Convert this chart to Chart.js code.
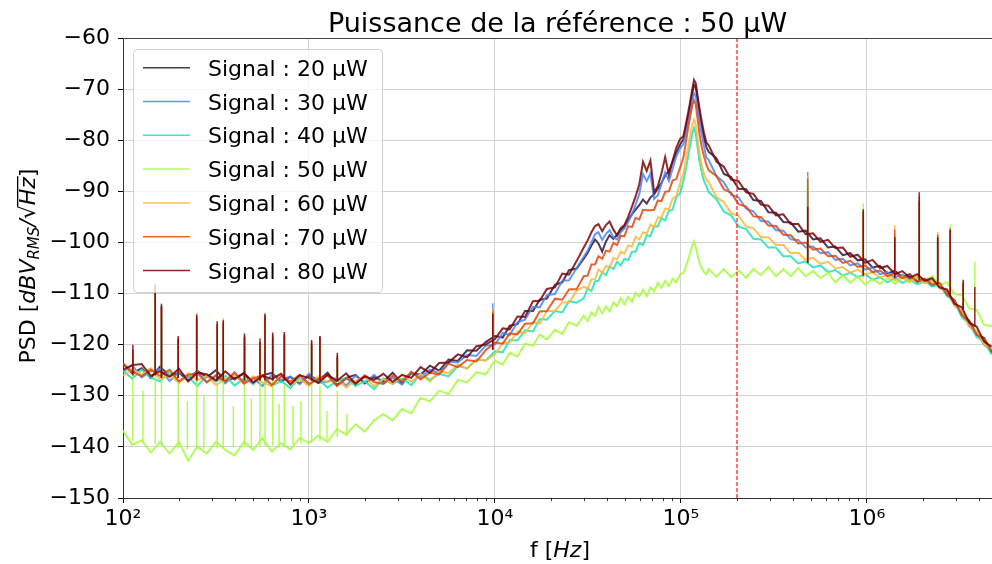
<!DOCTYPE html>
<html>
<head>
<meta charset="utf-8">
<title>PSD - référence 50 µW</title>
<script src="https://cdn.jsdelivr.net/npm/chart.js@4.4.1/dist/chart.umd.min.js"></script>
<style>
  html, body { margin: 0; padding: 0; background: #fff; }
  #wrap { width: 992px; height: 564px; }
</style>
</head>
<body>
<div id="wrap"><canvas id="psdChart" width="992" height="564"></canvas></div>
<script>
// ---- data ----
const titleText = 'Puissance de la référence : 50 µW';
const seriesLabels = ['Signal : 20 µW', 'Signal : 30 µW', 'Signal : 40 µW', 'Signal : 50 µW',
                      'Signal : 60 µW', 'Signal : 70 µW', 'Signal : 80 µW'];

// frequency grid, Hz
const freqs = [
  100, 112, 126, 141, 158, 178, 200, 224, 251, 282, 316, 355, 398, 447, 501, 562, 631, 708, 794, 891,
  1000, 1122, 1259, 1413, 1585, 1778, 1995, 2239, 2512, 2818, 3162, 3548, 3981, 4467, 5012, 5623, 6310, 7079, 7943, 8913,
  10000, 11000, 12000, 13200, 14500, 16000, 17400, 19000, 21000, 23000, 25000, 27500,
  30000, 31500, 33000, 34500, 36000, 37700, 39500, 41300, 43300, 45300, 47400, 49600, 52000, 54500,
  57000, 59700, 62500, 65400, 68500, 71700, 75000, 78500, 82200, 86100, 90100, 94300, 98800,
  103000, 106000, 109000, 112000, 115000, 117500, 120000, 123000, 126000, 129500, 133000, 137000,
  141000, 155000, 170000, 186000, 204000, 224000, 245000, 269000, 295000, 324000, 355000, 389000, 427000,
  468000, 513000, 562000, 617000, 676000, 741000, 813000, 891000, 977000, 1070000, 1175000, 1288000,
  1413000, 1549000, 1698000, 1862000, 2042000, 2239000, 2455000, 2692000, 2951000, 3236000, 3548000,
  3890000, 4266000, 4677000
];

// PSD in dBV_RMS/sqrt(Hz), one value per frequency
const psd20 = [
  -123.7, -125.6, -124.6, -126.5, -124.3, -126.1, -125.5, -127.0, -125.1, -126.4, -125.0, -127.1, -126.5, -125.7, -127.6, -126.0, -125.5, -127.2, -126.3, -127.6,
  -126.0, -127.0, -125.5, -127.9, -126.5, -125.9, -127.6, -126.3, -127.2, -125.5, -127.6, -125.6, -125.9, -124.1, -125.1, -122.9, -123.2, -121.1, -121.2, -119.5,
  -118.3, -118.6, -116.3, -116.0, -113.4, -113.4, -111.2, -111.0, -108.3, -107.8, -105.4, -105.1,
  -103.2, -102.0, -100.6, -99.4, -100.2, -101.8, -99.8, -98.6, -99.3, -98.5, -97.6, -96.9, -95.6, -94.5,
  -93.6, -92.7, -91.6, -92.4, -91.2, -90.6, -89.5, -88.3, -86.9, -86.0, -84.3, -82.5, -80.9,
  -79.8, -77.8, -75.6, -73.2, -70.8, -69.2, -69.6, -72.2, -74.8, -77.3, -79.5, -81.4,
  -82.3, -83.5, -86.6, -87.2, -89.5, -89.6, -91.7, -91.9, -94.1, -94.2, -96.0, -96.1, -97.9,
  -97.7, -99.4, -99.2, -101.0, -100.8, -102.5, -102.1, -103.5, -103.3, -104.9, -104.6, -106.1,
  -105.5, -106.8, -106.2, -107.7, -107.2, -108.5, -108.1, -110.4, -111.3, -114.2, -115.3,
  -118.0, -118.7, -121.6
];
const psd30 = [
  -125.4, -124.0, -126.4, -125.2, -124.8, -127.1, -125.4, -126.4, -125.2, -127.3, -126.1, -127.6, -125.8, -127.2, -126.5, -128.1, -125.9, -126.9, -126.2, -127.7,
  -125.7, -127.5, -127.2, -126.5, -128.0, -126.1, -127.4, -125.9, -127.6, -126.5, -127.8, -125.4, -126.4, -124.9, -125.6, -123.3, -123.5, -122.0, -122.2, -120.2,
  -120.0, -117.7, -118.1, -115.6, -115.1, -112.6, -112.7, -110.3, -110.1, -107.5, -107.4, -105.0,
  -102.8, -101.6, -100.0, -98.4, -98.0, -99.5, -98.3, -97.6, -99.0, -99.4, -98.0, -97.3, -96.0, -94.4,
  -92.6, -90.5, -86.6, -88.0, -86.5, -91.5, -90.8, -88.6, -86.3, -88.0, -85.6, -83.2, -81.6,
  -80.8, -78.8, -76.6, -74.5, -72.2, -70.8, -71.4, -73.8, -76.5, -79.0, -81.3, -83.4,
  -83.9, -87.0, -88.2, -90.6, -91.2, -93.4, -93.9, -95.8, -95.9, -97.6, -97.7, -99.4, -99.5,
  -101.0, -100.8, -102.1, -101.9, -103.4, -103.2, -104.5, -104.1, -105.3, -104.9, -106.2, -105.8,
  -106.9, -106.3, -107.3, -106.7, -107.8, -107.4, -108.9, -109.6, -112.3, -113.5, -116.4,
  -117.5, -120.1, -121.1
];
const psd40 = [
  -125.0, -126.7, -124.9, -126.4, -127.2, -125.3, -127.2, -126.2, -128.1, -126.1, -127.2, -126.1, -128.0, -126.6, -127.7, -126.1, -128.1, -127.1, -128.5, -126.5,
  -127.7, -126.7, -128.4, -127.1, -126.5, -128.1, -127.2, -128.7, -126.6, -127.7, -126.6, -127.9, -125.7, -126.9, -125.7, -126.2, -124.2, -124.6, -122.9, -123.1,
  -121.3, -121.5, -119.1, -119.2, -117.2, -117.4, -115.0, -115.1, -113.4, -113.7, -111.5, -111.8,
  -110.9, -109.0, -109.5, -107.6, -107.5, -105.8, -106.4, -104.7, -105.2, -103.8, -104.5, -103.2, -103.5, -101.8,
  -101.8, -100.1, -100.5, -98.6, -98.8, -96.9, -96.9, -95.2, -95.7, -93.8, -93.6, -91.1, -90.4,
  -88.0, -85.8, -83.4, -81.0, -78.8, -77.6, -78.6, -81.6, -84.3, -86.4, -88.0, -89.0,
  -90.2, -91.5, -94.0, -94.7, -96.9, -97.4, -99.3, -99.4, -101.0, -101.0, -102.7, -102.7, -104.1,
  -103.7, -104.9, -104.5, -105.8, -105.4, -106.5, -105.9, -106.8, -106.2, -107.3, -106.8, -107.8,
  -107.0, -107.9, -107.2, -108.2, -107.6, -108.6, -108.2, -110.4, -111.6, -114.6, -115.9,
  -118.5, -119.4, -121.9
];
const psd50 = [
  -136.8, -139.6, -138.7, -141.1, -139.0, -141.3, -139.0, -142.7, -139.9, -141.3, -139.0, -140.6, -141.7, -139.0, -140.6, -138.3, -140.9, -139.3, -140.5, -138.3,
  -139.2, -137.8, -139.0, -136.5, -137.6, -135.6, -137.0, -134.8, -133.6, -134.8, -132.6, -133.4, -130.4, -131.1, -129.0, -129.7, -126.9, -127.4, -125.4, -125.8,
  -123.1, -123.9, -121.6, -122.3, -119.8, -120.2, -118.0, -119.0, -117.1, -117.9, -115.6, -116.3,
  -114.3, -115.4, -113.7, -114.4, -112.6, -113.9, -112.5, -113.5, -111.7, -112.5, -110.9, -112.1, -110.6, -111.6,
  -109.9, -110.6, -109.2, -110.5, -108.8, -109.6, -107.9, -108.9, -107.5, -108.5, -107.1, -107.8, -106.3,
  -106.0, -104.8, -103.5, -102.0, -100.6, -99.8, -100.8, -102.6, -104.0, -105.0, -105.8, -106.2,
  -105.2, -106.7, -105.2, -106.8, -105.5, -106.9, -105.2, -106.4, -104.8, -106.6, -105.2, -106.6, -105.0,
  -106.6, -105.6, -107.0, -105.9, -107.8, -106.4, -107.9, -106.7, -108.2, -107.2, -108.1, -106.9,
  -108.1, -106.9, -107.9, -106.5, -107.6, -106.6, -108.3, -107.8, -110.1, -110.3, -112.9,
  -113.2, -116.1, -116.4
];
const psd60 = [
  -126.1, -124.8, -125.8, -124.6, -126.8, -125.9, -127.5, -125.6, -127.0, -126.1, -127.9, -126.7, -125.9, -127.7, -126.2, -127.4, -128.1, -126.0, -127.8, -126.8,
  -128.1, -126.2, -127.4, -126.7, -128.4, -127.0, -126.4, -128.1, -126.7, -127.7, -125.9, -127.2, -125.8, -127.2, -125.2, -125.6, -123.9, -124.7, -122.9, -123.1,
  -121.9, -119.7, -119.6, -117.4, -117.8, -115.6, -115.9, -113.4, -113.4, -111.7, -111.8, -109.4,
  -108.7, -109.0, -107.2, -107.2, -105.3, -105.9, -104.6, -104.9, -103.0, -103.3, -101.8, -102.2, -100.6, -100.8,
  -98.9, -99.4, -98.0, -98.3, -96.5, -97.0, -95.1, -95.1, -93.4, -93.5, -91.4, -91.0, -88.5,
  -86.5, -84.0, -81.5, -79.2, -77.0, -76.0, -77.0, -80.0, -82.8, -85.0, -86.6, -87.8,
  -88.2, -91.1, -92.1, -94.3, -94.8, -96.9, -97.2, -99.0, -99.0, -100.5, -100.5, -102.1, -102.0,
  -103.4, -103.0, -104.2, -103.8, -105.1, -104.8, -105.9, -105.3, -106.3, -105.8, -106.9, -106.4,
  -107.4, -106.7, -107.6, -106.9, -108.0, -107.5, -108.9, -109.5, -112.2, -113.4, -116.3,
  -117.4, -120.0, -120.8
];
const psd70 = [
  -123.7, -125.3, -126.2, -124.9, -126.1, -124.9, -127.2, -125.9, -125.6, -127.4, -126.0, -127.2, -125.4, -127.6, -126.6, -126.0, -127.9, -126.2, -127.2, -125.9,
  -127.7, -126.7, -126.0, -128.1, -126.6, -127.5, -126.0, -127.3, -127.7, -126.1, -127.2, -125.3, -126.8, -125.5, -125.8, -123.7, -124.4, -123.0, -123.3, -121.1,
  -119.6, -119.8, -117.8, -118.0, -115.9, -115.8, -113.5, -113.4, -111.0, -111.2, -109.2, -109.1,
  -106.6, -106.5, -104.3, -104.3, -102.7, -103.2, -101.6, -101.8, -100.1, -100.5, -98.7, -98.8, -96.8, -97.0,
  -95.2, -95.5, -93.6, -93.7, -93.7, -93.6, -91.8, -91.9, -90.1, -90.0, -87.9, -87.6, -85.4,
  -83.4, -80.6, -77.8, -75.4, -73.2, -72.2, -73.0, -76.0, -79.0, -81.5, -83.2, -84.8,
  -85.9, -87.0, -89.6, -90.3, -92.5, -93.0, -94.9, -95.0, -96.7, -96.8, -98.5, -98.6, -100.2,
  -100.0, -101.4, -101.2, -102.7, -102.6, -104.0, -103.6, -104.8, -104.5, -105.8, -105.5, -106.6,
  -106.0, -107.0, -106.5, -107.6, -107.1, -108.2, -107.9, -110.1, -111.3, -114.2, -115.5,
  -118.1, -118.9, -121.3
];
const psd80 = [
  -124.9, -124.0, -123.8, -126.1, -125.2, -126.3, -124.7, -127.2, -125.5, -125.8, -127.0, -125.2, -126.8, -125.5, -127.4, -126.1, -126.7, -125.7, -127.8, -126.0,
  -126.5, -127.5, -125.9, -127.1, -125.6, -127.7, -126.2, -126.9, -125.7, -127.3, -125.9, -126.5, -124.4, -125.5, -123.6, -123.5, -121.9, -122.5, -120.3, -120.0,
  -118.9, -116.8, -117.0, -114.5, -114.6, -111.5, -111.4, -109.1, -108.8, -106.1, -106.3, -103.6,
  -101.0, -99.6, -98.0, -96.8, -96.4, -97.8, -96.6, -95.9, -97.5, -98.6, -97.2, -96.6, -95.0, -93.0,
  -91.0, -88.6, -84.2, -86.0, -84.0, -90.2, -89.0, -86.5, -83.3, -86.8, -84.0, -81.5, -79.8,
  -79.2, -77.0, -74.8, -72.5, -70.0, -68.2, -68.8, -71.5, -74.0, -76.5, -78.6, -80.5,
  -81.0, -84.2, -85.2, -87.7, -88.0, -90.2, -90.5, -92.6, -92.8, -94.7, -94.5, -96.4, -96.4,
  -98.4, -98.2, -99.9, -99.5, -101.1, -101.0, -102.8, -102.4, -104.0, -103.4, -105.0, -104.6,
  -106.2, -105.6, -106.9, -106.2, -107.5, -107.0, -108.8, -109.2, -112.0, -112.7, -115.7,
  -116.5, -119.4, -120.4
];

// narrow lines (spikes): frequency, foot level, top level per series (null = none)
const spikeFreqs = [113, 149, 161, 198, 249, 321, 346, 450, 545, 580, 638, 737, 1033, 1145, 1420, 9730,
                    480000, 955000, 1410000, 1910000, 2400000, 2800000, 3290000, 3800000,
                    128, 222, 272, 392, 490, 690, 820, 905, 1250, 1600];
const spikeFoot = [-126, -126, -126.5, -126.5, -127, -127, -127, -127, -127, -127, -127, -127, -127, -127, -127, -121,
                   -104, -106.5, -107, -107.3, -108.2, -110.5, -113, -116.5,
                   -127, -127, -127, -127, -127, -127, -127, -127, -127, -127];
const spikeFoot50 = [-138.8, -139.5, -139.8, -140.3, -140.5, -140.3, -140.2, -140, -139.9, -139.8, -139.7, -139.6, -139.2, -138.9, -138.1, -124,
                     -106, -107, -107.3, -107.1, -107.8, -109, -111, -113.5,
                     -139.2, -140.5, -140.4, -140.1, -139.9, -139.6, -139.5, -139.4, -138.6, -137.5];
const spikes20 = [-121, -109.5, -112, -119, -115, -115.4, -116, -118.5, -119.5, -114.5, -118.5, -118, -120, -118.3, -122.5, -113,
                  -90, -95, -100, -92, -100, -99, -108, null,
                  null, null, null, null, null, null, null, null, null, null];
const spikes30 = [-121.5, -109.5, -112.5, -119.5, -115, -116, -116, -119, -120, -115, -119, -118.5, -120, -119, -122.5, -111.9,
                  -86.2, -94.5, -99.5, -92.5, -99.5, -98.5, -108.5, null,
                  null, null, null, null, null, null, null, null, null, null];
const spikes40 = [-122, -110, -116.5, -120, -116, -119, -117, -119.5, -119.5, -115.5, -119.5, -119, -120.5, -120, -123, -114,
                  -88, -94, -98.5, -93, -99, -98, -109, null,
                  null, null, null, null, null, null, null, null, null, null];
const spikes50 = [-126.3, -124, -125, -127.7, -127, -127.5, -126.5, -127.7, -127, -126.5, -127, -128, -127.5, -128, -129, null,
                  null, -92.4, null, null, null, -96.6, null, -103.8,
                  -129, -131, -130, -132, -130.5, -131.5, -132, -131, -133, -133.5];
const spikes60 = [-121, -109, -113, -119, -113.8, -116, -114.8, -118.5, -120, -114.5, -118.5, -118.5, -120, -119, -122.5, -113,
                  -87, -94, -96.6, -92, -97.9, -97.5, -108, null,
                  null, null, null, null, null, null, null, null, null, null];
const spikes70 = [-121, -108, -112.5, -118.8, -114.5, -116, -115.5, -118.2, -119.5, -114.2, -118, -118, -119.5, -118.8, -122, -113.5,
                  -87.5, -93.8, -97.5, -91, -98.5, -97.2, -107.8, null,
                  null, null, null, null, null, null, null, null, null, null];
const spikes80 = [-120, -108.3, -112.5, -118.3, -114.1, -116, -115.2, -117.8, -118.8, -113.9, -117.6, -117.5, -119.1, -118.5, -121.6, -114,
                  -93, -93.5, -99, -90.2, -99, -97.5, -107.3, -108.7,
                  null, null, null, null, null, null, null, null, null, null];

const refFreq = 200000;          // red dashed marker
const xMin = 100, xMax = 4700000;
const yMin = -150, yMax = -60;
const xTickValues = [100, 1000, 10000, 100000, 1000000];
const xTickLabels = ['10²', '10³', '10⁴', '10⁵', '10⁶'];

// ---- styles ----
const seriesColors = [
  'rgba(48,18,59,0.85)', 'rgba(70,134,251,0.85)', 'rgba(26,228,182,0.85)', 'rgba(164,252,60,0.85)',
  'rgba(251,185,56,0.85)', 'rgba(228,70,10,0.85)', 'rgba(122,4,3,0.85)'
];
const FONT = '"DejaVu Sans", "Liberation Sans", sans-serif';

const seriesValues = [psd20, psd30, psd40, psd50, psd60, psd70, psd80];
const seriesSpikes = [spikes20, spikes30, spikes40, spikes50, spikes60, spikes70, spikes80];

const datasets = [];
seriesLabels.forEach((label, i) => {
  const order = seriesLabels.length - 1 - i;   // last series drawn on top
  datasets.push({
    label: label,
    data: freqs.map((f, k) => ({ x: f, y: seriesValues[i][k] })),
    borderColor: seriesColors[i],
    borderWidth: 2,
    pointRadius: 0,
    order: order
  });
  const foot = i === 3 ? spikeFoot50 : spikeFoot;
  const pts = [];
  spikeFreqs.forEach((f, k) => {
    const top = seriesSpikes[i][k];
    if (top === null) return;
    pts.push({ x: f, y: foot[k] }, { x: f, y: top }, { x: f, y: null });
  });
  datasets.push({
    label: label + ' raies',
    data: pts,
    borderColor: seriesColors[i],
    borderWidth: 1.5,
    pointRadius: 0,
    spanGaps: false,
    order: order
  });
});
datasets.push({
  label: 'ref',
  data: [{ x: refFreq, y: yMin }, { x: refFreq, y: yMax }],
  borderColor: 'rgba(255,30,30,0.85)',
  borderWidth: 1.5,
  borderDash: [4, 2],
  pointRadius: 0,
  order: -1
});

// draws mixed upright / italic / subscript text centred on (cx, cy)
function drawParts(ctx, parts, cx, cy) {
  let total = 0;
  parts.forEach(p => { ctx.font = p.font; p.w = ctx.measureText(p.text).width; total += p.w; });
  let x = cx - total / 2;
  parts.forEach(p => {
    ctx.font = p.font;
    ctx.fillText(p.text, x, cy + (p.dy || 0));
    if (p.bar) ctx.fillRect(x - 1, cy - 18, p.w + 2, 1.3);
    x += p.w;
  });
}

const decorations = {
  id: 'decorations',
  afterDatasetsDraw(chart) {
    const ctx = chart.ctx;
    // legend box inside the plot
    const bx = 133.5, by = 49.5, bw = 249, bh = 243, r = 4;
    ctx.save();
    ctx.beginPath();
    ctx.moveTo(bx + r, by);
    ctx.lineTo(bx + bw - r, by);
    ctx.arcTo(bx + bw, by, bx + bw, by + r, r);
    ctx.lineTo(bx + bw, by + bh - r);
    ctx.arcTo(bx + bw, by + bh, bx + bw - r, by + bh, r);
    ctx.lineTo(bx + r, by + bh);
    ctx.arcTo(bx, by + bh, bx, by + bh - r, r);
    ctx.lineTo(bx, by + r);
    ctx.arcTo(bx, by, bx + r, by, r);
    ctx.closePath();
    ctx.fillStyle = 'rgba(255,255,255,0.8)';
    ctx.fill();
    ctx.strokeStyle = 'rgba(204,204,204,0.9)';
    ctx.lineWidth = 1;
    ctx.stroke();
    ctx.font = '22px ' + FONT;
    ctx.textBaseline = 'alphabetic';
    ctx.textAlign = 'left';
    seriesLabels.forEach((label, i) => {
      const y = 67.7 + i * 33.8;
      ctx.strokeStyle = seriesColors[i];
      ctx.lineWidth = 1.5;
      ctx.beginPath();
      ctx.moveTo(143, y);
      ctx.lineTo(190, y);
      ctx.stroke();
      ctx.fillStyle = '#000';
      ctx.fillText(label, 208, y + 8);
    });
    ctx.restore();
  },
  afterDraw(chart) {
    const ctx = chart.ctx;
    const area = chart.chartArea;
    const xs = chart.scales.x;
    ctx.save();
    // top frame line
    ctx.strokeStyle = '#444';
    ctx.lineWidth = 1;
    ctx.beginPath();
    ctx.moveTo(area.left, area.top + 0.5);
    ctx.lineTo(area.right, area.top + 0.5);
    ctx.stroke();
    // minor ticks of the log axis
    ctx.strokeStyle = '#000';
    ctx.lineWidth = 0.8;
    xTickValues.forEach(d => {
      for (let m = 2; m <= 9; m++) {
        const v = m * d;
        if (v > xMax) break;
        const px = Math.round(xs.getPixelForValue(v)) + 0.5;
        ctx.beginPath();
        ctx.moveTo(px, area.bottom);
        ctx.lineTo(px, area.bottom + 3);
        ctx.stroke();
      }
    });
    // title
    ctx.fillStyle = '#000';
    ctx.textBaseline = 'alphabetic';
    ctx.textAlign = 'left';
    ctx.font = '27px ' + FONT;
    const tw = ctx.measureText(titleText).width;
    ctx.fillText(titleText, (area.left + area.right) / 2 - tw / 2, 32);
    // x axis label
    drawParts(ctx, [
      { text: 'f [', font: '22px ' + FONT },
      { text: 'Hz', font: 'italic 22px ' + FONT },
      { text: ']', font: '22px ' + FONT }
    ], 560, 557);
    // y axis label
    ctx.translate(35, 266);
    ctx.rotate(-Math.PI / 2);
    drawParts(ctx, [
      { text: 'PSD [', font: '22px ' + FONT },
      { text: 'dBV', font: 'italic 22px ' + FONT },
      { text: 'RMS', font: 'italic 15px ' + FONT, dy: 4 },
      { text: '/', font: 'italic 22px ' + FONT },
      { text: '√', font: '22px ' + FONT },
      { text: 'Hz', font: 'italic 22px ' + FONT, bar: true },
      { text: ']', font: '22px ' + FONT }
    ], 0, 0);
    ctx.restore();
  }
};

new Chart(document.getElementById('psdChart').getContext('2d'), {
  type: 'line',
  data: { datasets: datasets },
  options: {
    responsive: false,
    animation: false,
    devicePixelRatio: 1,
    layout: { padding: { top: 38, right: 0, bottom: 0, left: 0 } },
    plugins: { legend: { display: false }, tooltip: { enabled: false }, title: { display: false } },
    scales: {
      x: {
        type: 'logarithmic',
        min: xMin,
        max: xMax,
        afterBuildTicks: axis => { axis.ticks = xTickValues.map(v => ({ value: v })); },
        afterFit: axis => { axis.height = 66; },
        ticks: {
          autoSkip: false,
          maxRotation: 0,
          padding: 3,
          color: '#000',
          font: { family: FONT, size: 22 },
          callback: (v, idx) => xTickLabels[idx]
        },
        grid: { color: '#d2d2d2', lineWidth: 1, tickLength: 5, tickColor: '#000' },
        border: { color: '#333', width: 1 }
      },
      y: {
        type: 'linear',
        min: yMin,
        max: yMax,
        afterFit: axis => { axis.width = 123; },
        ticks: {
          stepSize: 10,
          padding: 8,
          color: '#000',
          font: { family: FONT, size: 22 },
          callback: v => (v < 0 ? '\u2212' + Math.abs(v) : String(v))
        },
        grid: { color: '#d2d2d2', lineWidth: 1, tickLength: 5, tickColor: '#000' },
        border: { color: '#333', width: 1 }
      }
    }
  },
  plugins: [decorations]
});
</script>
</body>
</html>
